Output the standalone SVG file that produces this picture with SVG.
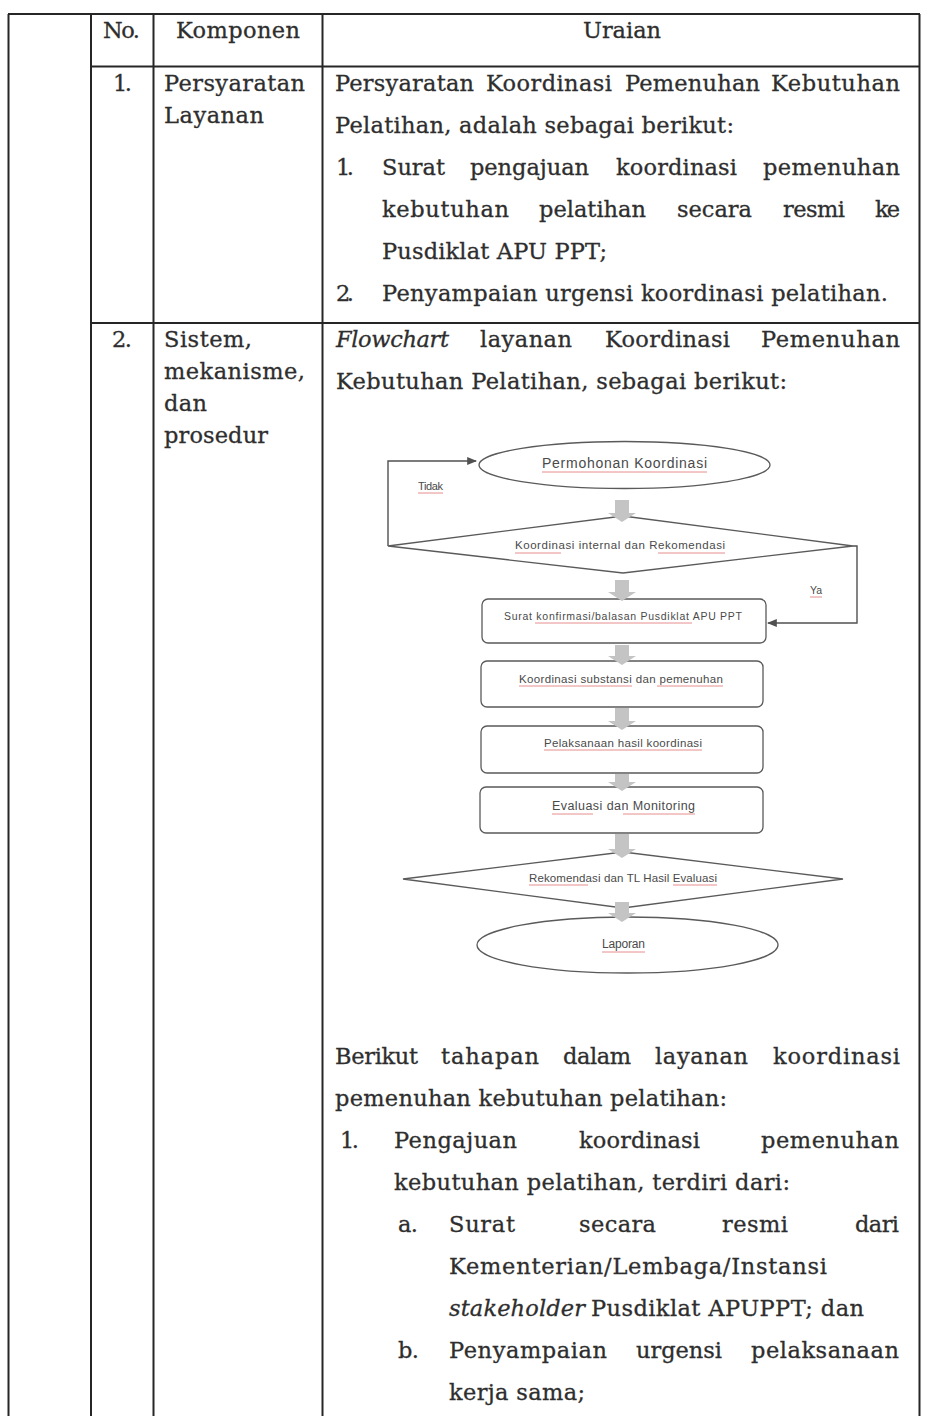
<svg xmlns="http://www.w3.org/2000/svg" width="933" height="1416" viewBox="0 0 933 1416">
  <style>
    .t { font-family: "DejaVu Serif", "Liberation Serif", serif; font-size: 22.5px; fill: #2e2e2e; stroke: #2e2e2e; stroke-width: 0.3; }
    .i { font-style: italic; }
    .rule { stroke: #262626; stroke-width: 2; fill: none; }
    .fs { font-family: "Liberation Sans", Arial, sans-serif; fill: #4a4a4a; }
    .shape { fill: #ffffff; stroke: #5a5a5a; stroke-width: 1.3; }
    .blk { fill: #c4c4c4; }
    .link { fill: none; stroke: #505050; stroke-width: 1.4; }
    .sp { stroke: #e06b6b; stroke-width: 1; opacity: 0.75; }
  </style>
  <defs>
    <marker id="ah" viewBox="0 0 10 10" refX="9" refY="5" markerWidth="7" markerHeight="7" orient="auto">
      <path d="M0,1 L10,5 L0,9 Z" fill="#505050"/>
    </marker>
  </defs>

  <rect width="933" height="1416" fill="#ffffff"/>

  <!-- table grid -->
  <g id="table">
    <line class="rule" x1="8" y1="14" x2="920" y2="14" stroke-width="3"/>
    <line class="rule" x1="8.5" y1="14" x2="8.5" y2="1416"/>
    <line class="rule" x1="91" y1="14" x2="91" y2="1416"/>
    <line class="rule" x1="153.5" y1="14" x2="153.5" y2="1416"/>
    <line class="rule" x1="322.5" y1="14" x2="322.5" y2="1416"/>
    <line class="rule" x1="919.5" y1="14" x2="919.5" y2="1416"/>
    <line class="rule" x1="91" y1="66.5" x2="920" y2="66.5"/>
    <line class="rule" x1="91" y1="323" x2="920" y2="323"/>
  </g>

  <!-- header row -->
  <g id="header">
    <text class="t" x="103" y="38" textLength="37" lengthAdjust="spacing">No.</text>
    <text class="t" x="176" y="38" textLength="124" lengthAdjust="spacing">Komponen</text>
    <text class="t" x="583" y="38" textLength="78" lengthAdjust="spacing">Uraian</text>
  </g>

  <!-- row 1: Persyaratan Layanan -->
  <g id="row1-left">
    <text class="t" x="113" y="91" textLength="19" lengthAdjust="spacing">1.</text>
    <text class="t" x="164" y="91" textLength="141" lengthAdjust="spacing">Persyaratan</text>
    <text class="t" x="164" y="123" textLength="100" lengthAdjust="spacing">Layanan</text>
  </g>
  <g id="row1-right">
    <text class="t" x="335" y="91" textLength="139" lengthAdjust="spacing">Persyaratan</text>
    <text class="t" x="486" y="91" textLength="126" lengthAdjust="spacing">Koordinasi</text>
    <text class="t" x="625" y="91" textLength="135" lengthAdjust="spacing">Pemenuhan</text>
    <text class="t" x="771" y="91" textLength="129" lengthAdjust="spacing">Kebutuhan</text>
    <text class="t" x="335" y="133" textLength="399" lengthAdjust="spacing">Pelatihan, adalah sebagai berikut:</text>
    <text class="t" x="336" y="175" textLength="18" lengthAdjust="spacing">1.</text>
    <text class="t" x="382" y="175" textLength="63" lengthAdjust="spacing">Surat</text>
    <text class="t" x="470" y="175" textLength="119" lengthAdjust="spacing">pengajuan</text>
    <text class="t" x="616" y="175" textLength="121" lengthAdjust="spacing">koordinasi</text>
    <text class="t" x="763" y="175" textLength="137" lengthAdjust="spacing">pemenuhan</text>
    <text class="t" x="382" y="217" textLength="127" lengthAdjust="spacing">kebutuhan</text>
    <text class="t" x="539" y="217" textLength="107" lengthAdjust="spacing">pelatihan</text>
    <text class="t" x="677" y="217" textLength="75" lengthAdjust="spacing">secara</text>
    <text class="t" x="783" y="217" textLength="62" lengthAdjust="spacing">resmi</text>
    <text class="t" x="875" y="217" textLength="25" lengthAdjust="spacing">ke</text>
    <text class="t" x="382" y="259" textLength="225" lengthAdjust="spacing">Pusdiklat APU PPT;</text>
    <text class="t" x="336" y="301" textLength="18" lengthAdjust="spacing">2.</text>
    <text class="t" x="382" y="301" textLength="506" lengthAdjust="spacing">Penyampaian urgensi koordinasi pelatihan.</text>
  </g>

  <!-- row 2: Sistem, mekanisme, dan prosedur -->
  <g id="row2-left">
    <text class="t" x="112" y="347" textLength="20" lengthAdjust="spacing">2.</text>
    <text class="t" x="164" y="347" textLength="88" lengthAdjust="spacing">Sistem,</text>
    <text class="t" x="164" y="379" textLength="141" lengthAdjust="spacing">mekanisme,</text>
    <text class="t" x="164" y="411" textLength="43" lengthAdjust="spacing">dan</text>
    <text class="t" x="164" y="443" textLength="104" lengthAdjust="spacing">prosedur</text>
  </g>
  <g id="row2-intro">
    <text class="t i" x="336" y="347" textLength="113" lengthAdjust="spacing">Flowchart</text>
    <text class="t" x="480" y="347" textLength="92" lengthAdjust="spacing">layanan</text>
    <text class="t" x="605" y="347" textLength="125" lengthAdjust="spacing">Koordinasi</text>
    <text class="t" x="761" y="347" textLength="139" lengthAdjust="spacing">Pemenuhan</text>
    <text class="t" x="336" y="389" textLength="451" lengthAdjust="spacing">Kebutuhan Pelatihan, sebagai berikut:</text>
  </g>

  <!-- flowchart connectors -->
  <g id="connectors">
    <polyline class="link" points="388,546 388,461 476,461" marker-end="url(#ah)"/>
    <polyline class="link" points="853,546 857,546 857,623 768,623" marker-end="url(#ah)"/>
  </g>

  <!-- flowchart nodes -->
  <g id="n-permohonan">
    <ellipse class="shape" cx="624.5" cy="465" rx="145.5" ry="23.5"/>
    <text class="fs" x="542" y="468" style="font-size:14px" textLength="165" lengthAdjust="spacing">Permohonan Koordinasi</text>
    <line class="sp" x1="542" y1="472" x2="707" y2="472"/>
  </g>
  <g id="n-koordinasi-internal">
    <polygon class="shape" points="623,516 853,546 623,573 388,546"/>
    <text class="fs" x="515" y="549" style="font-size:11.5px" textLength="210" lengthAdjust="spacing">Koordinasi internal dan Rekomendasi</text>
    <line class="sp" x1="515" y1="553" x2="561" y2="553"/>
    <line class="sp" x1="658" y1="553" x2="725" y2="553"/>
  </g>
  <g id="lbl-tidak">
    <text class="fs" x="418" y="490" style="font-size:11px" textLength="25" lengthAdjust="spacing">Tidak</text>
    <line class="sp" x1="418" y1="493" x2="443" y2="493"/>
  </g>
  <g id="lbl-ya">
    <text class="fs" x="810" y="594" style="font-size:10.5px" textLength="12" lengthAdjust="spacing">Ya</text>
    <line class="sp" x1="810" y1="597" x2="822" y2="597"/>
  </g>
  <g id="n-surat">
    <rect class="shape" x="482" y="599" width="284" height="44" rx="6"/>
    <text class="fs" x="504" y="620" style="font-size:10.5px" textLength="238" lengthAdjust="spacing">Surat konfirmasi/balasan Pusdiklat APU PPT</text>
    <line class="sp" x1="535" y1="623" x2="692" y2="623"/>
  </g>
  <g id="n-substansi">
    <rect class="shape" x="481" y="661" width="282" height="46" rx="6"/>
    <text class="fs" x="519" y="683" style="font-size:11.5px" textLength="204" lengthAdjust="spacing">Koordinasi substansi dan pemenuhan</text>
    <line class="sp" x1="519" y1="686" x2="632" y2="686"/>
    <line class="sp" x1="657" y1="686" x2="723" y2="686"/>
  </g>
  <g id="n-pelaksanaan">
    <rect class="shape" x="481" y="726" width="282" height="47" rx="6"/>
    <text class="fs" x="544" y="747" style="font-size:11.5px" textLength="158" lengthAdjust="spacing">Pelaksanaan hasil koordinasi</text>
    <line class="sp" x1="544" y1="750" x2="702" y2="750"/>
  </g>
  <g id="n-evaluasi">
    <rect class="shape" x="480" y="787" width="283" height="46" rx="6"/>
    <text class="fs" x="552" y="810" style="font-size:12.5px" textLength="143" lengthAdjust="spacing">Evaluasi dan Monitoring</text>
    <line class="sp" x1="552" y1="814" x2="593" y2="814"/>
    <line class="sp" x1="623" y1="814" x2="695" y2="814"/>
  </g>
  <g id="n-rekomendasi">
    <polygon class="shape" points="623,852 843,879 623,908 403,879"/>
    <text class="fs" x="529" y="882" style="font-size:11.5px" textLength="188" lengthAdjust="spacing">Rekomendasi dan TL Hasil Evaluasi</text>
    <line class="sp" x1="529" y1="885" x2="588" y2="885"/>
    <line class="sp" x1="673" y1="885" x2="717" y2="885"/>
  </g>
  <g id="n-laporan">
    <ellipse class="shape" cx="627.5" cy="945" rx="150.5" ry="28"/>
    <text class="fs" x="602" y="948" style="font-size:12px" textLength="43" lengthAdjust="spacing">Laporan</text>
    <line class="sp" x1="602" y1="952" x2="645" y2="952"/>
  </g>

  <!-- block arrows between steps -->
  <g id="flow-arrows">
    <path class="blk" d="M615,500 H629 V513 H636 L622,522 L608,513 H615 Z"/>
    <path class="blk" d="M615,580 H629 V592 H636 L622,601 L608,592 H615 Z"/>
    <path class="blk" d="M615,645 H629 V656 H636 L622,665 L608,656 H615 Z"/>
    <path class="blk" d="M615,708 H629 V721 H636 L622,730 L608,721 H615 Z"/>
    <path class="blk" d="M615,774 H629 V782 H636 L622,791 L608,782 H615 Z"/>
    <path class="blk" d="M615,834 H629 V849 H636 L622,858 L608,849 H615 Z"/>
    <path class="blk" d="M615,902 H629 V913 H636 L622,922 L608,913 H615 Z"/>
  </g>

  <!-- procedure steps -->
  <g id="row2-steps">
    <text class="t" x="335" y="1064" textLength="83" lengthAdjust="spacing">Berikut</text>
    <text class="t" x="441" y="1064" textLength="98" lengthAdjust="spacing">tahapan</text>
    <text class="t" x="563" y="1064" textLength="68" lengthAdjust="spacing">dalam</text>
    <text class="t" x="655" y="1064" textLength="93" lengthAdjust="spacing">layanan</text>
    <text class="t" x="773" y="1064" textLength="127" lengthAdjust="spacing">koordinasi</text>
    <text class="t" x="335" y="1106" textLength="392" lengthAdjust="spacing">pemenuhan kebutuhan pelatihan:</text>
    <text class="t" x="340" y="1148" textLength="19" lengthAdjust="spacing">1.</text>
    <text class="t" x="394" y="1148" textLength="123" lengthAdjust="spacing">Pengajuan</text>
    <text class="t" x="579" y="1148" textLength="121" lengthAdjust="spacing">koordinasi</text>
    <text class="t" x="761" y="1148" textLength="138" lengthAdjust="spacing">pemenuhan</text>
    <text class="t" x="394" y="1190" textLength="396" lengthAdjust="spacing">kebutuhan pelatihan, terdiri dari:</text>
    <text class="t" x="398" y="1232" textLength="20" lengthAdjust="spacing">a.</text>
    <text class="t" x="449" y="1232" textLength="66" lengthAdjust="spacing">Surat</text>
    <text class="t" x="579" y="1232" textLength="77" lengthAdjust="spacing">secara</text>
    <text class="t" x="722" y="1232" textLength="66" lengthAdjust="spacing">resmi</text>
    <text class="t" x="855" y="1232" textLength="44" lengthAdjust="spacing">dari</text>
    <text class="t" x="449" y="1274" textLength="378" lengthAdjust="spacing">Kementerian/Lembaga/Instansi</text>
    <text class="t i" x="449" y="1316" textLength="136" lengthAdjust="spacing">stakeholder</text>
    <text class="t" x="591" y="1316" textLength="273" lengthAdjust="spacing">Pusdiklat APUPPT; dan</text>
    <text class="t" x="398" y="1358" textLength="21" lengthAdjust="spacing">b.</text>
    <text class="t" x="449" y="1358" textLength="158" lengthAdjust="spacing">Penyampaian</text>
    <text class="t" x="636" y="1358" textLength="86" lengthAdjust="spacing">urgensi</text>
    <text class="t" x="751" y="1358" textLength="148" lengthAdjust="spacing">pelaksanaan</text>
    <text class="t" x="449" y="1400" textLength="136" lengthAdjust="spacing">kerja sama;</text>
  </g>
</svg>
